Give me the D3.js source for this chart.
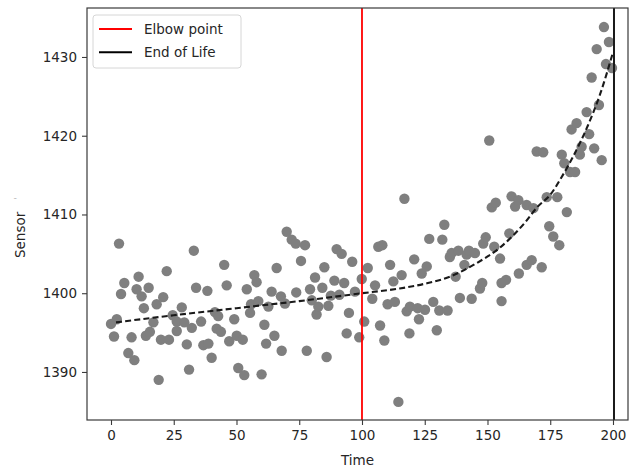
<!DOCTYPE html>
<html>
<head>
<meta charset="utf-8">
<script src="https://cdn.jsdelivr.net/npm/d3@7"></script>
<style>
  html, body { margin: 0; padding: 0; background: #fff; }
  svg { display: block; }
  text { font-family: "DejaVu Sans", sans-serif; fill: #262626; }
</style>
</head>
<body>
<script>
// Sensor readings over time
const time = [
  0, 1.2, 2.3, 3.2, 4.0, 5.3, 6.9, 8.2, 9.3, 10.2, 11.0, 12.2, 13.1, 13.9, 15.0, 15.5, 16.9, 18.2, 19.0, 19.9,
  20.8, 22.2, 23.1, 24.6, 26.2, 26.2, 28.2, 29.2, 30.2, 31.1, 32.2, 33.0, 33.9, 35.9, 36.8, 38.4, 38.8, 40.1,
  41.4, 42.1, 42.7, 43.8, 45.1, 46.1, 47.1, 49.1, 50.1, 50.7, 52.5, 53.1, 54.1, 55.4, 55.8, 57.1, 58.0, 58.7,
  60.0, 61.1, 61.8, 62.7, 64.0, 65.1, 66.0, 67.7, 68.0, 69.3, 70.0, 72.0, 73.6, 73.8, 75.7, 77.3, 78.0, 79.3,
  80.0, 81.3, 81.9, 82.6, 84.2, 85.0, 85.9, 86.6, 87.6, 89.0, 89.9, 91.0, 91.9, 92.9, 93.9, 94.8, 96.1, 97.2,
  98.9, 99.9, 100.9, 102.3, 104.1, 105.2, 106.5, 107.2, 108.1, 108.9, 110.2, 111.2, 112.5, 113.1, 114.5,
  115.8, 116.9, 117.8, 118.9, 119.1, 120.8, 122.2, 122.7, 123.8, 125.1, 125.8, 126.8, 128.4, 129.8, 130.8,
  132.0, 132.8, 134.1, 135.0, 135.7, 137.3, 138.4, 139.0, 140.8, 141.7, 142.6, 143.7, 145.0, 147.0, 147.9,
  148.3, 149.3, 150.7, 151.7, 152.7, 153.3, 155.0, 155.6, 155.6, 157.4, 158.7, 159.6, 161.0, 162.3, 162.5,
  165.6, 165.6, 167.6, 168.3, 169.6, 171.6, 172.2, 173.6, 174.6, 176.2, 177.8, 178.6, 179.6, 180.6, 181.6,
  182.9, 183.5, 184.9, 185.5, 186.8, 187.5, 189.5, 190.5, 191.5, 192.5, 193.5, 194.4, 195.5, 196.4, 197.2,
  198.4, 199.6
];
const sensor = [
  1396.1, 1394.5, 1396.7, 1406.3, 1399.9, 1401.3, 1392.4, 1394.4, 1391.5, 1400.5, 1402.1, 1399.6, 1398.1, 1394.6, 1400.7, 1395.1, 1396.3, 1398.6, 1389.0, 1394.1,
  1399.5, 1402.8, 1394.1, 1397.2, 1396.4, 1395.2, 1398.2, 1396.3, 1393.5, 1390.3, 1395.6, 1405.4, 1400.7, 1396.4, 1393.4, 1400.3, 1393.6, 1391.8,
  1397.6, 1395.5, 1397.1, 1395.1, 1403.6, 1401.0, 1393.9, 1396.7, 1394.6, 1390.5, 1394.1, 1389.6, 1400.5, 1397.5, 1398.6, 1402.3, 1401.4, 1399.0,
  1389.7, 1396.0, 1393.6, 1398.3, 1400.2, 1394.6, 1403.2, 1399.6, 1392.7, 1398.7, 1407.8, 1406.8, 1406.3, 1400.1, 1404.1, 1406.1, 1392.7, 1400.5,
  1399.1, 1402.0, 1397.3, 1398.3, 1400.7, 1403.3, 1391.9, 1398.4, 1399.7, 1401.6, 1405.6, 1399.8, 1405.0, 1401.3, 1394.9, 1397.5, 1404.0, 1400.2,
  1394.4, 1401.8, 1396.4, 1403.2, 1399.3, 1401.0, 1405.9, 1395.9, 1406.1, 1394.0, 1398.6, 1403.6, 1401.5, 1398.9, 1386.2,
  1402.3, 1412.0, 1397.7, 1394.9, 1398.3, 1404.3, 1398.1, 1396.7, 1402.5, 1397.9, 1403.4, 1406.9, 1398.9, 1395.3, 1397.8,
  1406.8, 1408.7, 1397.8, 1404.6, 1405.1, 1402.1, 1405.4, 1399.4, 1403.6, 1404.9, 1405.4, 1399.3, 1405.1, 1400.6, 1401.3,
  1406.3, 1407.1, 1419.4, 1410.9, 1405.9, 1411.5, 1404.4, 1401.3, 1399.0, 1401.7, 1407.6, 1412.3, 1411.0, 1411.8, 1402.5,
  1411.2, 1403.6, 1404.2, 1410.8, 1418.0, 1403.3, 1417.9, 1412.2, 1408.5, 1407.2, 1412.2, 1406.1, 1417.6, 1416.5, 1410.3,
  1415.4, 1420.8, 1415.4, 1421.6, 1417.6, 1418.6, 1423.0, 1420.2, 1427.4, 1418.4, 1431.0, 1423.9, 1416.9, 1433.8, 1429.1,
  1431.9, 1428.6
];

// Degradation trend (dashed)
const trendTime   = [2, 25, 50, 75, 100, 115, 125, 135, 145, 155, 165, 170, 175, 180, 185, 190, 195, 200];
const trendSensor = [1396.3, 1397.2, 1398.1, 1399.0, 1400.0, 1400.6, 1401.2, 1402.1, 1403.7, 1405.8, 1409.0, 1411.0, 1412.5, 1415.0, 1417.9, 1421.3, 1425.4, 1430.6];

// Event markers
const elbowTime = 100;
const endOfLifeTime = 200.4;

const xTicks = [0, 25, 50, 75, 100, 125, 150, 175, 200];
const yTicks = [1390, 1400, 1410, 1420, 1430];

const legendItems = [
  { label: "Elbow point", color: "#ff0000" },
  { label: "End of Life", color: "#000000" }
];

const W = 630, H = 468;
const plot = { left: 87, right: 628, top: 8, bottom: 420 };

const svg = d3.select("body").append("svg").attr("width", W).attr("height", H);

const x = d3.scaleLinear().domain([-9.56, 205.98]).range([plot.left, plot.right]);
const y = d3.scaleLinear().domain([1383.9, 1436.22]).range([plot.bottom, plot.top]);

const frameColor = "#3a3a3a";

// Scatter points
const pts = time.map((t, i) => ({ t, v: sensor[i] }));
svg.append("g")
  .selectAll("circle")
  .data(pts)
  .join("circle")
  .attr("cx", d => x(d.t))
  .attr("cy", d => y(d.v))
  .attr("r", 5.2)
  .attr("fill", "#7f7f7f");

// Trend line
const trend = trendTime.map((t, i) => ({ t, v: trendSensor[i] }));
svg.append("path")
  .datum(trend)
  .attr("fill", "none")
  .attr("stroke", "#1a1a1a")
  .attr("stroke-width", 2.1)
  .attr("stroke-dasharray", "6,3.2")
  .attr("d", d3.line().x(d => x(d.t)).y(d => y(d.v)).curve(d3.curveMonotoneX));

// Vertical markers
svg.append("line")
  .attr("x1", x(elbowTime)).attr("x2", x(elbowTime))
  .attr("y1", plot.top).attr("y2", plot.bottom)
  .attr("stroke", "#ff0000").attr("stroke-width", 1.8);
svg.append("line")
  .attr("x1", x(endOfLifeTime)).attr("x2", x(endOfLifeTime))
  .attr("y1", plot.top).attr("y2", plot.bottom)
  .attr("stroke", "#1a1a1a").attr("stroke-width", 2);

// Axes
const xAxis = svg.append("g")
  .attr("transform", `translate(0,${plot.bottom})`)
  .call(d3.axisBottom(x).tickValues(xTicks).tickSize(5).tickPadding(5).tickFormat(d3.format("d")));
const yAxis = svg.append("g")
  .attr("transform", `translate(${plot.left},0)`)
  .call(d3.axisLeft(y).tickValues(yTicks).tickSize(5).tickPadding(5).tickFormat(d3.format("d")));
[xAxis, yAxis].forEach(g => {
  g.select(".domain").remove();
  g.selectAll(".tick line").attr("stroke", frameColor).attr("stroke-width", 1.1);
  g.selectAll(".tick text").attr("font-size", 13.5).attr("font-family", "DejaVu Sans").attr("fill", "#262626");
});

// Frame
svg.append("rect")
  .attr("x", plot.left).attr("y", plot.top)
  .attr("width", plot.right - plot.left).attr("height", plot.bottom - plot.top)
  .attr("fill", "none").attr("stroke", frameColor).attr("stroke-width", 1.2);

// Axis titles
svg.append("text")
  .attr("x", (plot.left + plot.right) / 2).attr("y", 465)
  .attr("text-anchor", "middle").attr("font-size", 13.5)
  .text("Time");
const yTitle = svg.append("text")
  .attr("transform", "translate(25,258) rotate(-90)")
  .attr("text-anchor", "start").attr("font-size", 13.5);
yTitle.append("tspan").text("Sensor");
yTitle.append("tspan")
  .attr("dx", 12).attr("dy", -4)
  .attr("font-size", 8).attr("fill", "#b0b0b0")
  .text("'");

// Legend
const lg = svg.append("g").attr("transform", "translate(93,15)");
lg.append("rect")
  .attr("width", 148).attr("height", 53).attr("rx", 3)
  .attr("fill", "#fff").attr("fill-opacity", 0.85)
  .attr("stroke", "#d6d6d6").attr("stroke-width", 1);
legendItems.forEach((item, i) => {
  const cy = 14 + i * 23.3;
  lg.append("line")
    .attr("x1", 6).attr("x2", 39).attr("y1", cy).attr("y2", cy)
    .attr("stroke", item.color).attr("stroke-width", 2);
  lg.append("text")
    .attr("x", 51).attr("y", cy).attr("dy", "0.35em")
    .attr("font-size", 13.5)
    .text(item.label);
});
</script>
</body>
</html>
